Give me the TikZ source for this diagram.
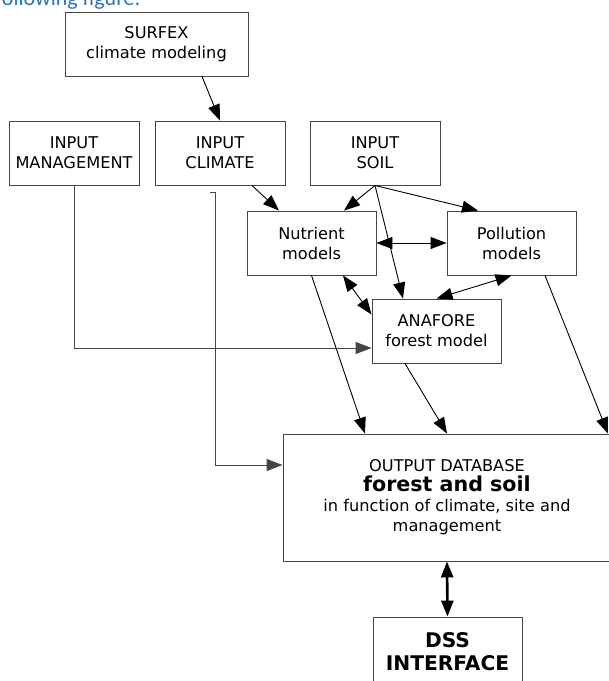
\documentclass[tikz,border=0pt]{standalone}
\usepackage{fontspec}
\setmainfont{DejaVu Sans}
\newfontfamily\headfont{Carlito}
\usetikzlibrary{arrows.meta}
\definecolor{headblue}{RGB}{46,116,181}
\definecolor{linegray}{RGB}{70,70,70}

\begin{document}
\begin{tikzpicture}[x=1pt,y=-1pt,>={Triangle[length=16pt,width=12pt]},line width=0.9pt,
 box/.style={rectangle,draw=linegray,minimum width=130pt,minimum height=64pt,inner sep=0pt,align=center,font=\fontsize{16.2}{20}\selectfont},
 big/.style={font=\bfseries\fontsize{20.2}{23}\selectfont}]
 \useasboundingbox (0,0) rectangle (609,681);
 \clip (0,0) rectangle (609,681);

 % heading of the page, cut at the top
 \node[anchor=base east,inner sep=0pt,text=headblue,font=\headfont\fontsize{22}{26}\selectfont] (head) at (141,5.5) {following figure:};

 % input boxes
 \node[box,minimum width=183pt] (surfex) at (156.5,44) {SURFEX\\climate modeling};
 \node[box] (mgmt) at (74,153) {INPUT\\MANAGEMENT};
 \node[box] (climate) at (220,153) {INPUT\\CLIMATE};
 \node[box] (soil) at (375,153) {INPUT\\SOIL};

 % models
 \node[box,minimum width=129pt] (nutrient) at (311.5,243) {Nutrient\\models};
 \node[box,minimum width=129pt] (pollution) at (511.5,243) {Pollution\\models};
 \node[box,minimum width=129pt] (anafore) at (436.5,331) {ANAFORE\\forest model};

 % output and interface
 \node[box,minimum width=328pt,minimum height=127pt] (output) at (447,497.5)
  {OUTPUT DATABASE\\{\bfseries\fontsize{20.6}{22}\selectfont forest and soil}\\in function of climate, site and\\management};
 \node[box,big,minimum width=149pt,minimum height=70pt] (dss) at (447.5,652) {DSS\\INTERFACE};
 \coordinate (hook) at (210,192);

 % arrows between the boxes
 \path[->]
 ([xshift=45.5]surfex.south) edge (climate.north)
 ([xshift=32]climate.south) edge ([xshift=-32.5]nutrient.north)
 (soil.south) edge ([xshift=32.5]nutrient.north)
 (soil.south) edge ([xshift=-33.5]pollution.north)
 (soil.south) edge ([xshift=-33.5]anafore.north)
 (nutrient.south) edge ([xshift=-82]output.north)
 ([xshift=-31.5]anafore.south) edge (output.north)
 ([xshift=33.5]pollution.south) edge ([xshift=161]output.north);
 \path[<->]
 (nutrient.east) edge (pollution.west)
 ([xshift=31.5]nutrient.south) edge ([yshift=-16]anafore.north west)
 (pollution.south) edge (anafore.north);

 % elbow lines
 \draw[->,draw=linegray] (mgmt.south) |- ([yshift=-17]anafore.west);
 \draw[->,draw=linegray] (hook) -- ++(5,0) |- ([yshift=32.5]output.west);
 \draw[<->,line width=2.6pt] (output.south) -- (dss.north);
\end{tikzpicture}
\end{document}
